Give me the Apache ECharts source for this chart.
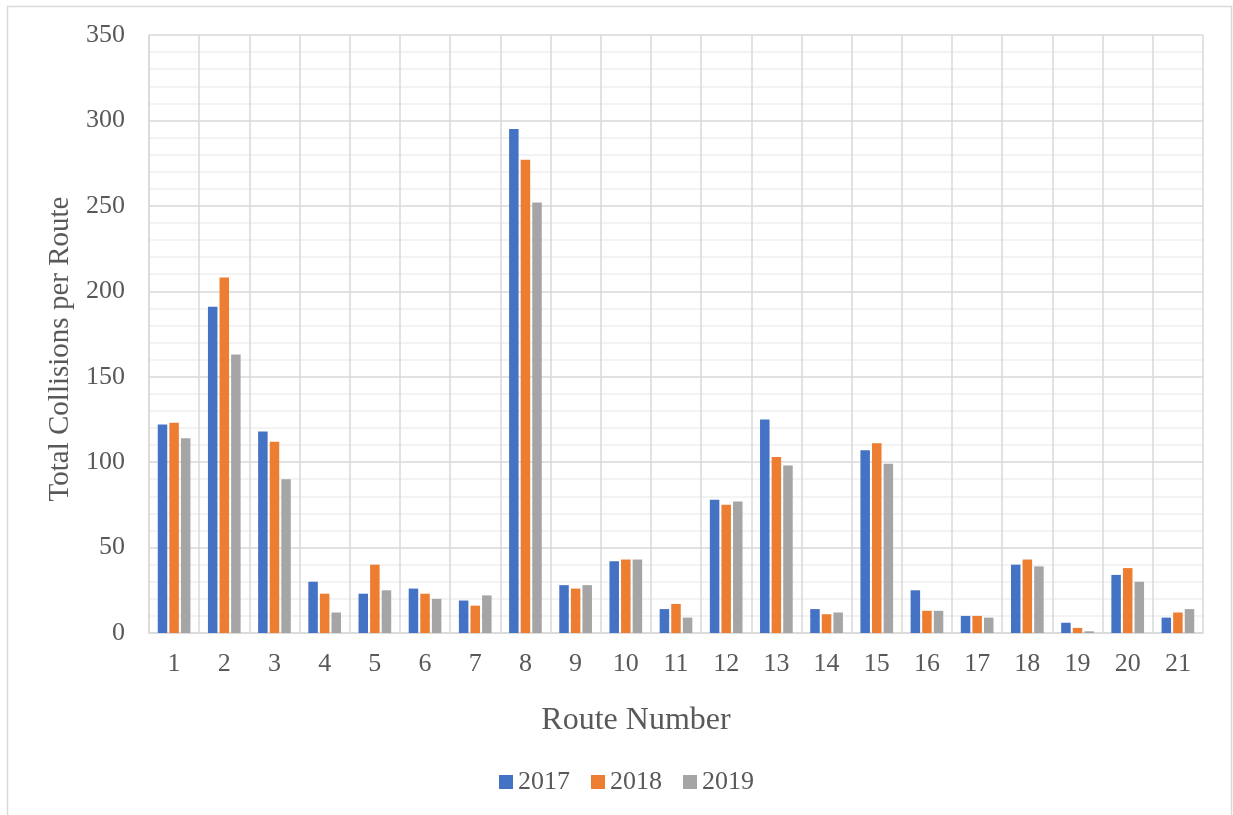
<!DOCTYPE html>
<html>
<head>
<meta charset="utf-8">
<script src="https://cdn.jsdelivr.net/npm/echarts@6/dist/echarts.min.js"></script>
<style>
  html, body { margin: 0; padding: 0; background: #ffffff; }
  #chart { width: 1233px; height: 815px; }
</style>
</head>
<body>
<div id="chart"></div>
<script>
// Route numbers along the x axis
const routes = ['1','2','3','4','5','6','7','8','9','10','11','12','13','14','15','16','17','18','19','20','21'];

// Total collisions per route, by year
const collisions2017 = [122, 191, 118, 30, 23, 26, 19, 295, 28, 42, 14, 78, 125, 14, 107, 25, 10, 40, 6, 34, 9];
const collisions2018 = [123, 208, 112, 23, 40, 23, 16, 277, 26, 43, 17, 75, 103, 11, 111, 13, 10, 43, 3, 38, 12];
const collisions2019 = [114, 163, 90, 12, 25, 20, 22, 252, 28, 43, 9, 77, 98, 12, 99, 13, 9, 39, 1, 30, 14];

const yearNames = ['2017', '2018', '2019'];
const yearColors = ['#4472c4', '#ed7d31', '#a5a5a5'];

const serif = '"Liberation Serif", "Times New Roman", serif';
const textGrey = '#595959';

const chart = echarts.init(document.getElementById('chart'), null, { renderer: 'canvas' });

function barSeries(name, data, color) {
  return {
    name: name,
    type: 'bar',
    data: data,
    barWidth: 9.5,
    barGap: '22%',
    itemStyle: { color: color },
    emphasis: { disabled: true }
  };
}

chart.setOption({
  animation: false,
  backgroundColor: '#ffffff',
  textStyle: { fontFamily: serif },
  graphic: [{
    type: 'rect',
    shape: { x: 7.5, y: 6.5, width: 1224, height: 820 },
    style: { fill: 'none', stroke: '#d9d9d9', lineWidth: 1.5 },
    silent: true,
    z: -1
  }],
  grid: { left: 149, right: 30, top: 35, bottom: 182, containLabel: false },
  legend: {
    data: yearNames,
    left: 494,
    top: 764,
    itemWidth: 14,
    itemHeight: 14,
    itemGap: 21,
    icon: 'rect',
    textStyle: { fontFamily: serif, fontSize: 26, color: textGrey, padding: [2, 0, 0, 0] }
  },
  xAxis: {
    type: 'category',
    data: routes,
    boundaryGap: true,
    name: 'Route Number',
    nameLocation: 'middle',
    nameGap: 72,
    nameTextStyle: { fontFamily: serif, fontSize: 32, color: textGrey, padding: [0, 80, 0, 0] },
    axisLine: { show: true, lineStyle: { color: '#d9d9d9', width: 1.5 } },
    axisTick: { show: false },
    axisLabel: { fontFamily: serif, fontSize: 26, color: textGrey, margin: 18 },
    splitLine: { show: true, lineStyle: { color: '#d9d9d9', width: 1.5 } }
  },
  yAxis: {
    type: 'value',
    min: 0,
    max: 350,
    interval: 50,
    name: 'Total Collisions per Route',
    nameLocation: 'middle',
    nameGap: 72,
    nameTextStyle: { fontFamily: serif, fontSize: 29, color: textGrey, padding: [0, 30, 0, 0] },
    axisLine: { show: true, lineStyle: { color: '#d9d9d9', width: 1.5 } },
    axisTick: { show: false },
    axisLabel: { fontFamily: serif, fontSize: 26, color: textGrey, margin: 24 },
    splitLine: { show: true, lineStyle: { color: '#d9d9d9', width: 1.5 } },
    minorTick: { show: false, splitNumber: 5 },
    minorSplitLine: { show: true, lineStyle: { color: '#f0f0f0', width: 1.5 } }
  },
  series: [
    barSeries(yearNames[0], collisions2017, yearColors[0]),
    barSeries(yearNames[1], collisions2018, yearColors[1]),
    barSeries(yearNames[2], collisions2019, yearColors[2])
  ]
});
</script>
</body>
</html>
